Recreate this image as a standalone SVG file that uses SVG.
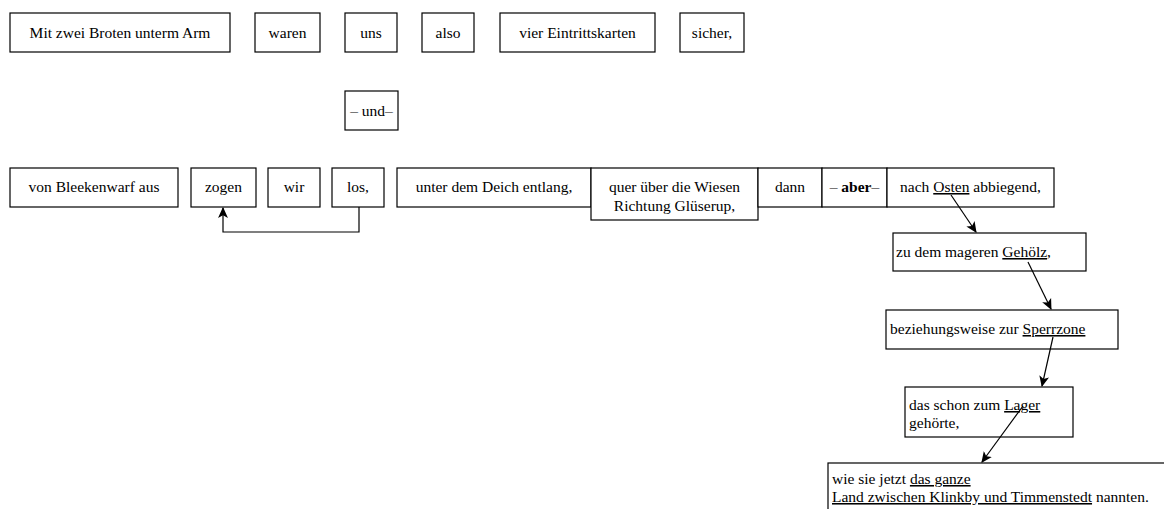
<svg xmlns="http://www.w3.org/2000/svg" width="1164" height="509" viewBox="0 0 1164 509">
<style>
rect{fill:#fff;stroke:#000;stroke-width:1.2}
text{font-size:15.5px;fill:#000}
.c{text-anchor:middle}
.u{text-decoration:underline}
.e{fill:none;stroke:#000;stroke-width:1.2}
</style>
<defs>
<marker id="ah" viewBox="0 0 10 10" refX="9" refY="5" markerWidth="11" markerHeight="11" markerUnits="userSpaceOnUse" orient="auto">
<path d="M0,0.5 L10,5 L0,9.5 L2.5,5 Z" fill="#000"/>
</marker>
</defs>
<g font-family="'Liberation Serif', 'DejaVu Serif', serif">
<g id="n1"><rect x="10" y="13" width="220" height="39"/><text class="c" x="120" y="38">Mit zwei Broten unterm Arm</text></g>
<g id="n2"><rect x="255" y="13" width="65" height="39"/><text class="c" x="287.5" y="38">waren</text></g>
<g id="n3"><rect x="345" y="13" width="52" height="39"/><text class="c" x="371" y="38">uns</text></g>
<g id="n4"><rect x="422" y="13" width="52" height="39"/><text class="c" x="448" y="38">also</text></g>
<g id="n5"><rect x="500" y="13" width="155" height="39"/><text class="c" x="577.5" y="38">vier Eintrittskarten</text></g>
<g id="n6"><rect x="680" y="13" width="64" height="39"/><text class="c" x="712" y="38">sicher,</text></g>
<g id="n7"><rect x="345" y="91" width="53" height="39"/><text class="c" x="371.5" y="116">– und–</text></g>
<g id="n8"><rect x="10" y="168" width="168" height="39"/><text class="c" x="94" y="192">von Bleekenwarf aus</text></g>
<g id="n9"><rect x="191" y="168" width="65" height="39"/><text class="c" x="223.5" y="192">zogen</text></g>
<g id="n10"><rect x="268" y="168" width="52" height="39"/><text class="c" x="294" y="192">wir</text></g>
<g id="n11"><rect x="332" y="168" width="52" height="39"/><text class="c" x="358" y="192">los,</text></g>
<g id="n12"><rect x="397" y="168" width="194" height="39"/><text class="c" x="494" y="192">unter dem Deich entlang,</text></g>
<g id="n13"><rect x="591" y="168" width="167" height="52"/><text class="c" x="674.5" y="192">quer über die Wiesen</text><text class="c" x="674.5" y="211">Richtung Glüserup,</text></g>
<g id="n14"><rect x="758" y="168" width="64" height="39"/><text class="c" x="790" y="192">dann</text></g>
<g id="n15"><rect x="822" y="168" width="65" height="39"/><text class="c" x="854.5" y="192">– <tspan font-weight="bold">aber</tspan>–</text></g>
<g id="n16"><rect x="887" y="168" width="167" height="39"/><text class="c" x="970.5" y="192">nach <tspan class="u">Osten</tspan> abbiegend,</text></g>
<g id="n17"><rect x="893" y="233" width="193" height="38"/><text x="896" y="257">zu dem mageren <tspan class="u">Gehölz</tspan>,</text></g>
<g id="n18"><rect x="886" y="310" width="232" height="39"/><text x="890" y="334">beziehungsweise zur <tspan class="u">Sperrzone</tspan></text></g>
<g id="n19"><rect x="905" y="387" width="168" height="50"/><text x="909" y="410">das schon zum <tspan class="u">Lager</tspan></text><text x="909" y="428">gehörte,</text></g>
<g id="n20"><rect x="828" y="463" width="350" height="60"/><text x="832" y="484">wie sie jetzt <tspan class="u">das ganze</tspan></text><text x="832" y="502"><tspan class="u">Land zwischen Klinkby und Timmenstedt</tspan> nannten.</text></g>
</g>
<g id="edges">
<path class="e" d="M359,207 V232 H223 V208" marker-end="url(#ah)"/>
<path class="e" d="M951,195 L976,232" marker-end="url(#ah)"/>
<path class="e" d="M1028,262 L1051,309" marker-end="url(#ah)"/>
<path class="e" d="M1053,337 L1042,386" marker-end="url(#ah)"/>
<path class="e" d="M1023,406 L982,462" marker-end="url(#ah)"/>
</g>
</svg>
